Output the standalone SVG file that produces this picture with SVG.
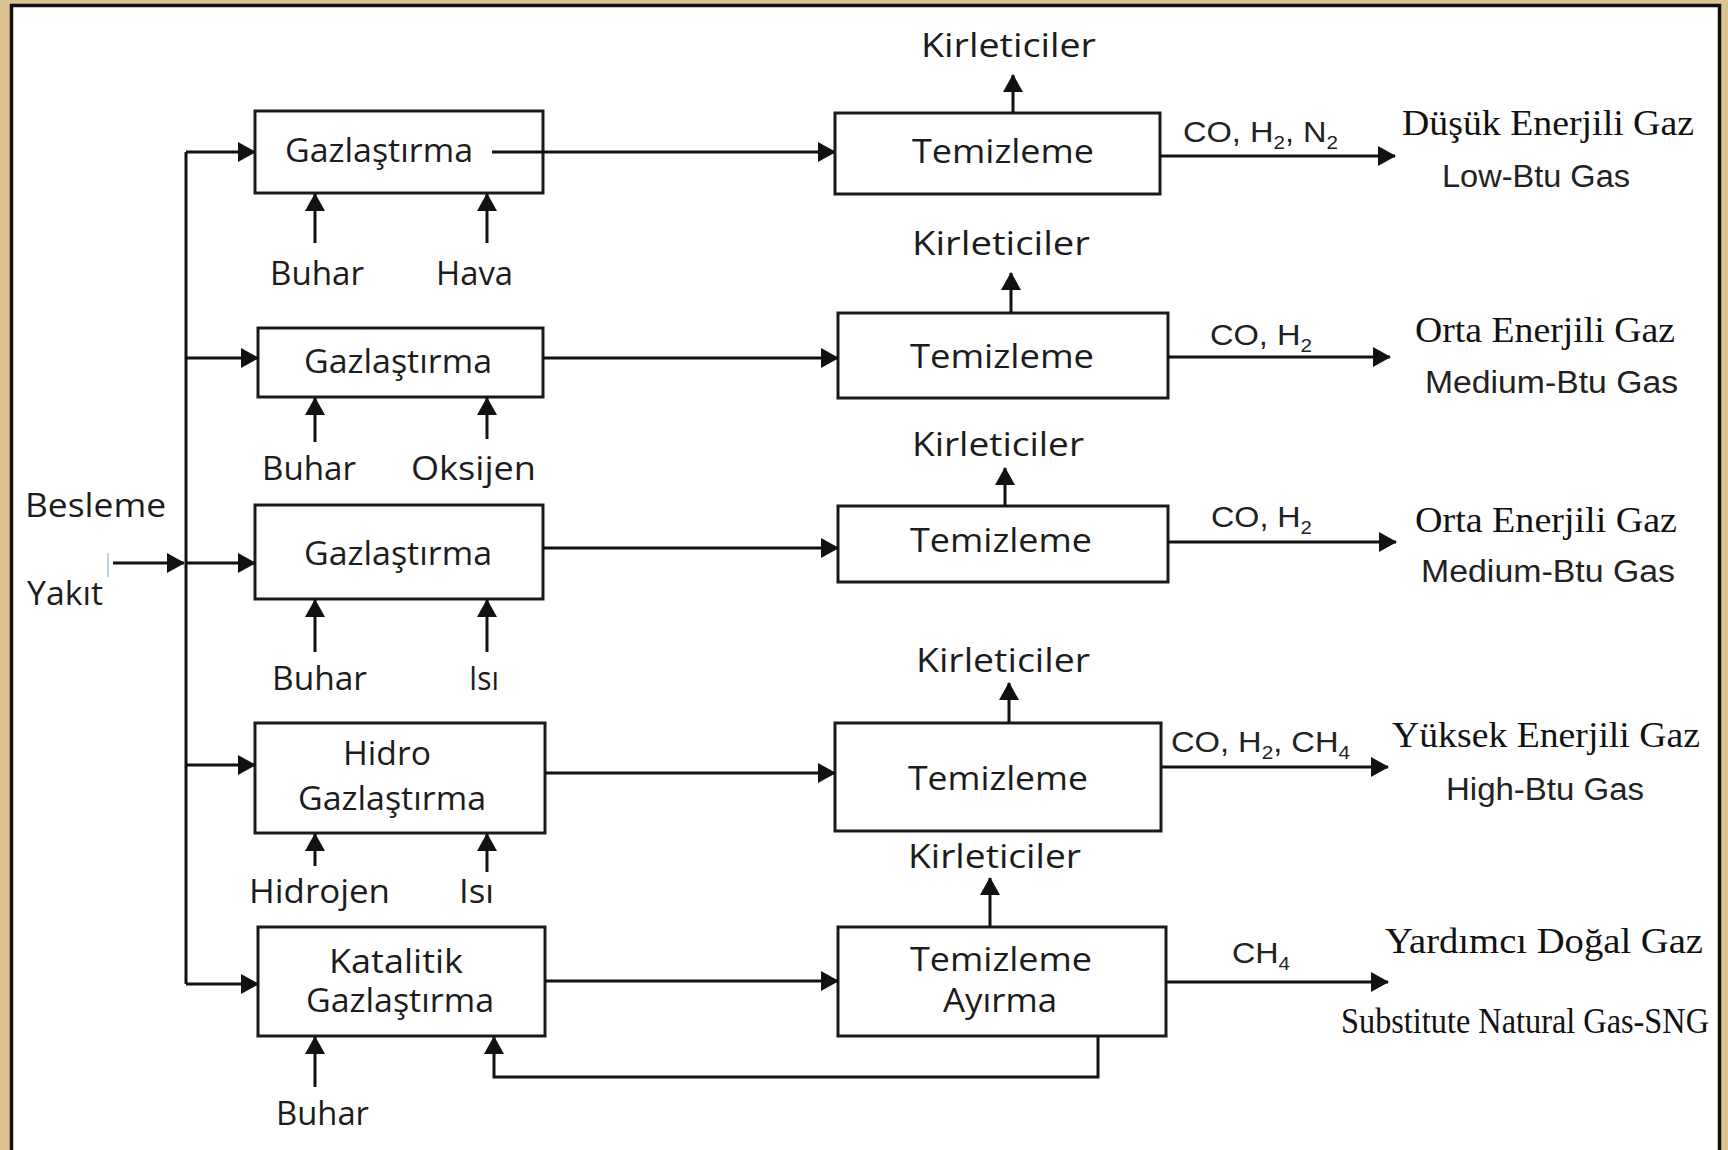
<svg xmlns="http://www.w3.org/2000/svg" width="1728" height="1150" viewBox="0 0 1728 1150">
<defs>
<style>
.box{fill:#fff;stroke:#1a1a1a;stroke-width:3}
.ln{fill:none;stroke:#111;stroke-width:3}
.ar{marker-end:url(#ah)}
.t{font-family:"Open Sans","Noto Sans",sans-serif;font-size:32px;fill:#1c1c1c}
.r{font-family:"Liberation Sans",Arial,sans-serif;font-size:30px;fill:#222}
.e{font-family:"Liberation Sans",Arial,sans-serif;font-size:31px;fill:#222}
.rs{font-size:19px}
.s{font-family:"Liberation Serif","Times New Roman",serif;font-size:36px;fill:#111}
</style>
<marker id="ah" viewBox="0 0 18 20" refX="17" refY="10" markerWidth="18" markerHeight="20" markerUnits="userSpaceOnUse" orient="auto">
<path d="M0,0 L18,10 L0,20 z" fill="#111"/>
</marker>
</defs>
<rect x="0" y="0" width="1728" height="1150" fill="#dcc38f"/>
<rect x="11.5" y="5.5" width="1708" height="1200" fill="#fff" stroke="#111" stroke-width="3.5"/>

<g id="g1"><rect class="box" x="255" y="111" width="288" height="82"/>
<text class="t" x="285" y="162" textLength="188" lengthAdjust="spacingAndGlyphs">Gazlaştırma</text></g>
<g id="g2"><rect class="box" x="258" y="328" width="285" height="69"/>
<text class="t" x="304" y="373" textLength="188" lengthAdjust="spacingAndGlyphs">Gazlaştırma</text></g>
<g id="g3"><rect class="box" x="255" y="505" width="288" height="94"/>
<text class="t" x="304" y="565" textLength="188" lengthAdjust="spacingAndGlyphs">Gazlaştırma</text></g>
<g id="g4"><rect class="box" x="255" y="723" width="290" height="110"/>
<text class="t" x="343" y="765" textLength="88" lengthAdjust="spacingAndGlyphs">Hidro</text>
<text class="t" x="298" y="810" textLength="188" lengthAdjust="spacingAndGlyphs">Gazlaştırma</text></g>
<g id="g5"><rect class="box" x="258" y="927" width="287" height="109"/>
<text class="t" x="329" y="973" textLength="134" lengthAdjust="spacingAndGlyphs">Katalitik</text>
<text class="t" x="306" y="1012" textLength="188" lengthAdjust="spacingAndGlyphs">Gazlaştırma</text></g>

<g id="c1"><rect class="box" x="835" y="113" width="325" height="81"/>
<text class="t" x="912" y="163" textLength="182" lengthAdjust="spacingAndGlyphs">Temizleme</text></g>
<g id="c2"><rect class="box" x="838" y="313" width="330" height="85"/>
<text class="t" x="910" y="368" textLength="184" lengthAdjust="spacingAndGlyphs">Temizleme</text></g>
<g id="c3"><rect class="box" x="838" y="506" width="330" height="76"/>
<text class="t" x="910" y="552" textLength="182" lengthAdjust="spacingAndGlyphs">Temizleme</text></g>
<g id="c4"><rect class="box" x="835" y="723" width="326" height="108"/>
<text class="t" x="908" y="790" textLength="180" lengthAdjust="spacingAndGlyphs">Temizleme</text></g>
<g id="c5"><rect class="box" x="838" y="927" width="328" height="109"/>
<text class="t" x="910" y="971" textLength="182" lengthAdjust="spacingAndGlyphs">Temizleme</text>
<text class="t" x="943" y="1012" textLength="114" lengthAdjust="spacingAndGlyphs">Ayırma</text></g>

<g id="connectors">
<line class="ln" x1="186" y1="152" x2="186" y2="984"/>
<line class="ln ar" x1="186" y1="152" x2="255" y2="152"/>
<line class="ln ar" x1="186" y1="358" x2="258" y2="358"/>
<line class="ln ar" x1="113" y1="563" x2="184" y2="563"/>
<line class="ln ar" x1="186" y1="563" x2="255" y2="563"/>
<line class="ln ar" x1="186" y1="765" x2="255" y2="765"/>
<line class="ln ar" x1="186" y1="984" x2="258" y2="984"/>
<line x1="108" y1="553" x2="108" y2="577" stroke="#9cc3e6" stroke-width="1.5"/>

<line class="ln ar" x1="315" y1="243" x2="315" y2="194"/>
<line class="ln ar" x1="487" y1="243" x2="487" y2="194"/>
<line class="ln ar" x1="315" y1="442" x2="315" y2="398"/>
<line class="ln ar" x1="487" y1="439" x2="487" y2="398"/>
<line class="ln ar" x1="315" y1="652" x2="315" y2="600"/>
<line class="ln ar" x1="487" y1="652" x2="487" y2="600"/>
<line class="ln ar" x1="315" y1="866" x2="315" y2="834"/>
<line class="ln ar" x1="487" y1="872" x2="487" y2="834"/>
<line class="ln ar" x1="315" y1="1087" x2="315" y2="1037"/>
<polyline class="ln ar" points="1098,1036 1098,1077 494,1077 494,1037"/>

<line class="ln ar" x1="492" y1="152" x2="835" y2="152" stroke="#444"/>
<line class="ln ar" x1="543" y1="358" x2="838" y2="358"/>
<line class="ln ar" x1="543" y1="548" x2="838" y2="548"/>
<line class="ln ar" x1="545" y1="773" x2="835" y2="773"/>
<line class="ln ar" x1="545" y1="981" x2="838" y2="981"/>

<line class="ln ar" x1="1013" y1="113" x2="1013" y2="75"/>
<line class="ln ar" x1="1011" y1="313" x2="1011" y2="273"/>
<line class="ln ar" x1="1005" y1="506" x2="1005" y2="468"/>
<line class="ln ar" x1="1009" y1="723" x2="1009" y2="683"/>
<line class="ln ar" x1="990" y1="927" x2="990" y2="878"/>

<line class="ln ar" x1="1160" y1="156" x2="1395" y2="156"/>
<line class="ln ar" x1="1168" y1="357" x2="1390" y2="357"/>
<line class="ln ar" x1="1168" y1="542" x2="1396" y2="542"/>
<line class="ln ar" x1="1161" y1="767" x2="1388" y2="767"/>
<line class="ln ar" x1="1166" y1="982" x2="1388" y2="982"/>
</g>

<g id="labels">
<text class="t" x="921" y="57" textLength="175" lengthAdjust="spacingAndGlyphs">Kirleticiler</text>
<text class="t" x="912" y="255" textLength="178" lengthAdjust="spacingAndGlyphs">Kirleticiler</text>
<text class="t" x="912" y="456" textLength="172" lengthAdjust="spacingAndGlyphs">Kirleticiler</text>
<text class="t" x="916" y="672" textLength="174" lengthAdjust="spacingAndGlyphs">Kirleticiler</text>
<text class="t" x="908" y="868" textLength="173" lengthAdjust="spacingAndGlyphs">Kirleticiler</text>

<text class="t" x="270" y="285" textLength="94" lengthAdjust="spacingAndGlyphs">Buhar</text>
<text class="t" x="436" y="285" textLength="77" lengthAdjust="spacingAndGlyphs">Hava</text>
<text class="t" x="262" y="480" textLength="94" lengthAdjust="spacingAndGlyphs">Buhar</text>
<text class="t" x="411" y="480" textLength="125" lengthAdjust="spacingAndGlyphs">Oksijen</text>
<text class="t" x="272" y="690" textLength="95" lengthAdjust="spacingAndGlyphs">Buhar</text>
<text class="t" x="469" y="690" textLength="30" lengthAdjust="spacingAndGlyphs">Isı</text>
<text class="t" x="249" y="903" textLength="141" lengthAdjust="spacingAndGlyphs">Hidrojen</text>
<text class="t" x="459" y="903" textLength="35" lengthAdjust="spacingAndGlyphs">Isı</text>
<text class="t" x="276" y="1125" textLength="93" lengthAdjust="spacingAndGlyphs">Buhar</text>
<text class="t" x="25" y="517" textLength="141" lengthAdjust="spacingAndGlyphs">Besleme</text>
<text class="t" x="27" y="605" textLength="76" lengthAdjust="spacingAndGlyphs">Yakıt</text>

<text class="r" x="1183" y="142" textLength="155" lengthAdjust="spacingAndGlyphs">CO, H<tspan class="rs" dy="7">2</tspan><tspan dy="-7">, N</tspan><tspan class="rs" dy="7">2</tspan></text>
<text class="r" x="1210" y="345" textLength="102" lengthAdjust="spacingAndGlyphs">CO, H<tspan class="rs" dy="7">2</tspan></text>
<text class="r" x="1211" y="527" textLength="101" lengthAdjust="spacingAndGlyphs">CO, H<tspan class="rs" dy="7">2</tspan></text>
<text class="r" x="1171" y="752" textLength="179" lengthAdjust="spacingAndGlyphs">CO, H<tspan class="rs" dy="7">2</tspan><tspan dy="-7">, CH</tspan><tspan class="rs" dy="7">4</tspan></text>
<text class="r" x="1232" y="963" textLength="58" lengthAdjust="spacingAndGlyphs">CH<tspan class="rs" dy="7">4</tspan></text>

<text class="s" x="1402" y="135" textLength="292" lengthAdjust="spacingAndGlyphs">Düşük Enerjili Gaz</text>
<text class="e" x="1442" y="187" textLength="188" lengthAdjust="spacingAndGlyphs">Low-Btu Gas</text>
<text class="s" x="1415" y="342" textLength="260" lengthAdjust="spacingAndGlyphs">Orta Enerjili Gaz</text>
<text class="e" x="1425" y="393" textLength="253" lengthAdjust="spacingAndGlyphs">Medium-Btu  Gas</text>
<text class="s" x="1415" y="532" textLength="262" lengthAdjust="spacingAndGlyphs">Orta Enerjili Gaz</text>
<text class="e" x="1421" y="582" textLength="254" lengthAdjust="spacingAndGlyphs">Medium-Btu  Gas</text>
<text class="s" x="1392" y="747" textLength="308" lengthAdjust="spacingAndGlyphs">Yüksek Enerjili Gaz</text>
<text class="e" x="1446" y="800" textLength="198" lengthAdjust="spacingAndGlyphs">High-Btu Gas</text>
<text class="s" x="1385" y="953" textLength="318" lengthAdjust="spacingAndGlyphs">Yardımcı Doğal Gaz</text>
<text class="s" x="1341" y="1033" font-size="34" textLength="368" lengthAdjust="spacingAndGlyphs">Substitute Natural Gas-SNG</text>
</g>
</svg>
